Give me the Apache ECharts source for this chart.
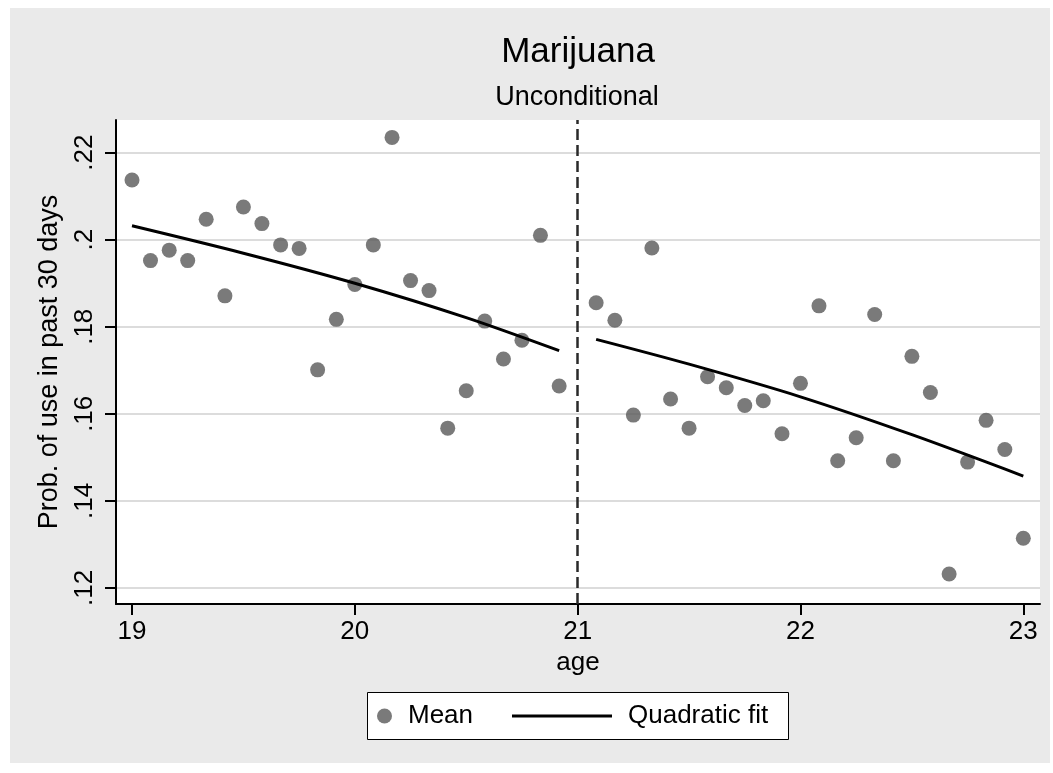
<!DOCTYPE html>
<html>
<head>
<meta charset="utf-8">
<script src="https://cdn.jsdelivr.net/npm/echarts@6/dist/echarts.min.js"></script>
<style>
html,body{margin:0;padding:0;background:#ffffff;}
#chart{width:1053px;height:773px;}
</style>
</head>
<body>
<div id="chart"></div>
<script>
// ---- data ----
const ages = [19.000, 19.083, 19.167, 19.250, 19.333, 19.417, 19.500, 19.583, 19.667, 19.750, 19.833, 19.917,
              20.000, 20.083, 20.167, 20.250, 20.333, 20.417, 20.500, 20.583, 20.667, 20.750, 20.833, 20.917,
              21.083, 21.167, 21.250, 21.333, 21.417, 21.500, 21.583, 21.667, 21.750, 21.833, 21.917,
              22.000, 22.083, 22.167, 22.250, 22.333, 22.417, 22.500, 22.583, 22.667, 22.750, 22.833, 22.917, 23.000];
const meanValues = [0.2137, 0.1952, 0.1976, 0.1952, 0.2047, 0.1871, 0.2075, 0.2037, 0.1988, 0.1980, 0.1701, 0.1817,
                    0.1897, 0.1988, 0.2235, 0.1906, 0.1883, 0.1567, 0.1653, 0.1813, 0.1726, 0.1769, 0.2010, 0.1664,
                    0.1855, 0.1815, 0.1597, 0.1981, 0.1634, 0.1567, 0.1685, 0.1660, 0.1619, 0.1630, 0.1554,
                    0.1670, 0.1848, 0.1492, 0.1545, 0.1828, 0.1492, 0.1732, 0.1649, 0.1232, 0.1489, 0.1585, 0.1518, 0.1314];
const fitLeftAges = [19.0, 19.5, 20.0, 20.5, 20.917];
const fitLeftValues = [0.2032, 0.1969, 0.1900, 0.1821, 0.1745];
const fitRightAges = [21.083, 21.5, 22.0, 22.5, 23.0];
const fitRightValues = [0.1771, 0.1714, 0.1639, 0.1552, 0.1457];
const cutoffAges = [21];
const xTicks = [19, 20, 21, 22, 23];
const yTicks = [0.12, 0.14, 0.16, 0.18, 0.20, 0.22];
const titleText = 'Marijuana';
const subtitleText = 'Unconditional';
const xName = 'age';
const yName = 'Prob. of use in past 30 days';
const seriesNames = ['Mean', 'Quadratic fit'];

// ---- chart ----
const FONT = "'Liberation Sans', Arial, sans-serif";
const chart = echarts.init(document.getElementById('chart'), null, {renderer: 'canvas'});
const fmtY = v => String(+(+v).toFixed(2)).replace(/^0/, '');

const option = {
  animation: false,
  backgroundColor: '#ffffff',
  textStyle: {fontFamily: FONT},
  graphic: [
    {type: 'rect', z: -5, silent: true, shape: {x: 10, y: 8, width: 1040, height: 755}, style: {fill: '#eaeaea'}},
    {type: 'rect', z: 2, silent: true, shape: {x: 367.5, y: 692.5, width: 421, height: 47}, style: {fill: '#ffffff', stroke: '#000000', lineWidth: 1}}
  ],
  title: [
    {text: titleText, left: 578, top: 35, textAlign: 'center', padding: 0,
     textStyle: {fontFamily: FONT, fontSize: 35, fontWeight: 'normal', color: '#000'}},
    {text: subtitleText, left: 577, top: 84, textAlign: 'center', padding: 0,
     textStyle: {fontFamily: FONT, fontSize: 27, fontWeight: 'normal', color: '#000'}}
  ],
  grid: {left: 116, right: 13, top: 120, bottom: 169, show: true, backgroundColor: '#ffffff', borderWidth: 0},
  xAxis: {
    type: 'value', min: 18.9282, max: 23.0749,
    name: xName, nameLocation: 'middle', nameGap: 41,
    nameTextStyle: {fontFamily: FONT, fontSize: 26, color: '#000'},
    axisLine: {show: true, onZero: false, lineStyle: {color: '#000', width: 2}},
    axisTick: {show: true, length: 11, customValues: xTicks, lineStyle: {color: '#000', width: 2}},
    axisLabel: {customValues: xTicks, fontFamily: FONT, fontSize: 26, color: '#000', margin: 15},
    splitLine: {show: false}
  },
  yAxis: {
    type: 'value', min: 0.1163, max: 0.2275,
    name: yName, nameLocation: 'middle', nameRotate: 90, nameGap: 53,
    nameTextStyle: {fontFamily: FONT, fontSize: 27, color: '#000'},
    axisLine: {show: true, onZero: false, lineStyle: {color: '#000', width: 2}},
    axisTick: {show: true, length: 11, customValues: yTicks, lineStyle: {color: '#000', width: 2}},
    axisLabel: {customValues: yTicks, rotate: 90, margin: 18, fontFamily: FONT, fontSize: 26, color: '#000', formatter: fmtY},
    splitLine: {show: true, lineStyle: {color: '#dcdcdc', width: 2}}
  },
  legend: [
    {data: [seriesNames[0]], left: 377, top: 703, padding: 0, itemWidth: 15, itemHeight: 15, itemGap: 0,
     selectedMode: false, z: 5,
     textStyle: {fontFamily: FONT, fontSize: 26, color: '#000', padding: [0, 0, 0, 11]}},
    {data: [{name: seriesNames[1], icon: 'rect'}], left: 512, top: 703, padding: 0, itemWidth: 100, itemHeight: 3, itemGap: 0,
     selectedMode: false, z: 5, itemStyle: {color: '#000'},
     textStyle: {fontFamily: FONT, fontSize: 26, color: '#000', padding: [0, 0, 0, 11]}}
  ],
  series: [
    {
      name: seriesNames[0], type: 'scatter', symbol: 'circle', symbolSize: 15, z: 3,
      itemStyle: {color: '#595959'},
      data: ages.map((a, i) => [a, meanValues[i]]),
      markLine: {
        silent: true, symbol: 'none', animation: false,
        label: {show: false},
        emphasis: {disabled: true},
        lineStyle: {type: [11, 5], color: '#2a2a2a', width: 2.5},
        data: cutoffAges.map(v => ({xAxis: v}))
      }
    },
    {
      name: seriesNames[1], type: 'line', symbol: 'none', smooth: 0.3, z: 4,
      lineStyle: {color: '#000', width: 3}, itemStyle: {color: '#000'},
      data: fitLeftAges.map((a, i) => [a, fitLeftValues[i]])
    },
    {
      name: seriesNames[1], type: 'line', symbol: 'none', smooth: 0.3, z: 4,
      lineStyle: {color: '#000', width: 3}, itemStyle: {color: '#000'},
      data: fitRightAges.map((a, i) => [a, fitRightValues[i]])
    }
  ]
};
chart.setOption(option);
</script>
</body>
</html>
